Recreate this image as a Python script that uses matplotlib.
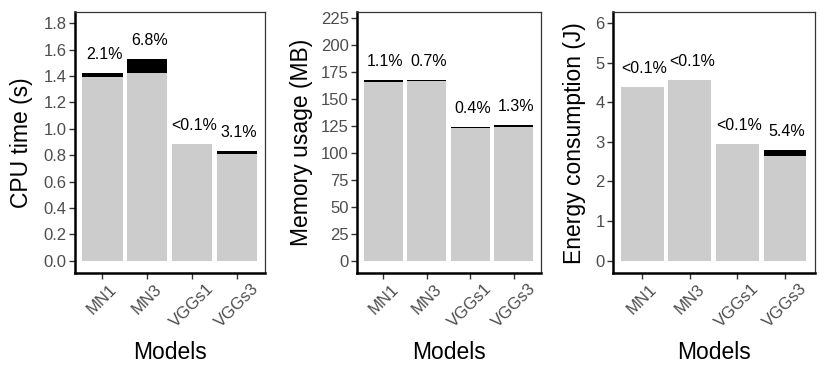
"""
Overhead bars for three metrics (CPU time, memory, energy) per model.
"""
import matplotlib
matplotlib.use("Agg")
import matplotlib.pyplot as plt

plt.rcParams['font.family'] = ['Liberation Sans', 'DejaVu Sans']

models = ["MN1", "MN3", "VGGs1", "VGGs3"]

# gray part (base) and black part (overhead) of each bar
cpu_base = [1.390, 1.423, 0.885, 0.808]
cpu_over = [0.030, 0.104, 0.000, 0.026]
cpu_labels = ["2.1%", "6.8%", "<0.1%", "3.1%"]

mem_base = [165.6, 166.8, 123.6, 124.1]
mem_over = [1.8, 1.2, 0.5, 1.6]
mem_labels = ["1.1%", "0.7%", "0.4%", "1.3%"]

energy_base = [4.39, 4.55, 2.94, 2.65]
energy_over = [0.00, 0.00, 0.00, 0.15]
energy_labels = ["<0.1%", "<0.1%", "<0.1%", "5.4%"]

W, H = 830, 378


def panel(fig, px_left, px_right, base, over, labels, ylabel, ylim, yticks,
          yfmt, ylab_x):
    """Draw one bar panel; pixel edges are converted to figure fractions."""
    top, bottom = 12.3, 273
    ax = fig.add_axes([px_left / W, (H - bottom) / H,
                       (px_right - px_left) / W, (bottom - top) / H])
    xs = list(range(1, len(models) + 1))
    ax.bar(xs, base, width=0.9, color="#CCCCCC", linewidth=0)
    ax.bar(xs, over, bottom=base, width=0.9, color="black", linewidth=0)
    for x, b, o, lab in zip(xs, base, over, labels):
        ax.annotate(lab, (x, b + o), xytext=(1.5, 8),
                    textcoords="offset points",
                    ha="center", va="bottom", fontsize=11.5, color="black")
    ax.set_xlim(0.39, 4.63)
    ax.set_ylim(*ylim)
    ax.set_yticks(yticks)
    ax.set_yticklabels([yfmt.format(v) for v in yticks])
    ax.set_xticks(xs)
    ax.set_xticklabels(models, rotation=45)
    ax.tick_params(axis="both", labelsize=12, labelcolor="#4D4D4D",
                   color="#333333", length=4, width=1)
    ax.tick_params(axis="y", pad=2)
    ax.tick_params(axis="x", pad=2)
    for s in ["top", "right"]:
        ax.spines[s].set_color("#333333")
        ax.spines[s].set_linewidth(0.9)
    for s in ["left", "bottom"]:
        ax.spines[s].set_color("black")
        ax.spines[s].set_linewidth(1.8)
    ax.set_ylabel(ylabel, fontsize=16.5, color="black")
    ax.yaxis.label.set_va("center")
    ax.yaxis.set_label_coords(ylab_x, 0.5)
    ax.set_xlabel("Models", fontsize=16.5, color="black")
    ax.xaxis.set_label_coords(0.5, -0.262)
    return ax


fig = plt.figure(figsize=(W / 100, H / 100), dpi=100)

panel(fig, 75, 265, cpu_base, cpu_over, cpu_labels, "CPU time (s)",
      (-0.093, 1.883), [0.0, 0.2, 0.4, 0.6, 0.8, 1.0, 1.2, 1.4, 1.6, 1.8],
      "{:.1f}", -0.28)
panel(fig, 357, 541, mem_base, mem_over, mem_labels, "Memory usage (MB)",
      (-11.4, 230.6), [0, 25, 50, 75, 100, 125, 150, 175, 200, 225],
      "{:d}", -0.30)
panel(fig, 613, 815, energy_base, energy_over, energy_labels,
      "Energy consumption (J)", (-0.31, 6.27), [0, 1, 2, 3, 4, 5, 6],
      "{:d}", -0.193)

fig.savefig("out.png", dpi=100)
